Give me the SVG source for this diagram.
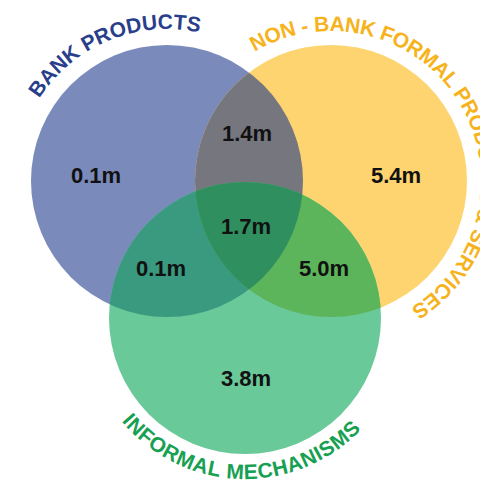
<svg xmlns="http://www.w3.org/2000/svg" xmlns:xlink="http://www.w3.org/1999/xlink" width="480" height="483" viewBox="0 0 480 483">
<style>
.num{font-family:"Liberation Sans",Arial,sans-serif;font-weight:bold;font-size:22px;fill:#111;text-anchor:middle}
.arc{font-family:"Liberation Sans",Arial,sans-serif;font-weight:bold;font-size:21px}
</style>
<defs>
<clipPath id="cBlue"><circle cx="167" cy="181" r="136"/></clipPath>
<clipPath id="cYellow"><circle cx="331" cy="181" r="136"/></clipPath>
<clipPath id="cGreen"><circle cx="245" cy="318" r="136"/></clipPath>
<path id="pBank" d="M15,181 A152,152 0 0,1 319,181" fill="none"/>
<path id="pNonBank" d="M190.05,129.7 A150,150 0 1,1 357.05,328.7" fill="none"/>
<path id="pInformal" d="M84,318 A161,161 0 0,0 406,318" fill="none"/>
</defs>
<rect width="480" height="483" fill="#fff"/>
<g id="bank">
<circle cx="167" cy="181" r="136" fill="#7a8bbb"/>
</g>
<g id="nonbank">
<circle cx="331" cy="181" r="136" fill="#fdd470"/>
</g>
<g id="informal">
<circle cx="245" cy="318" r="136" fill="#69c998"/>
</g>
<g id="bank-nonbank">
<circle cx="331" cy="181" r="136" fill="#76767f" clip-path="url(#cBlue)"/>
</g>
<g id="bank-informal">
<circle cx="245" cy="318" r="136" fill="#3a9a80" clip-path="url(#cBlue)"/>
</g>
<g id="nonbank-informal">
<circle cx="245" cy="318" r="136" fill="#5db55b" clip-path="url(#cYellow)"/>
</g>
<g id="all-three">
<g clip-path="url(#cYellow)">
<circle cx="245" cy="318" r="136" fill="#2f8f5f" clip-path="url(#cBlue)"/>
</g>
</g>
<g id="values">
<text class="num" x="96" y="183">0.1m</text>
<text class="num" x="247" y="141">1.4m</text>
<text class="num" x="396" y="183">5.4m</text>
<text class="num" x="246" y="234">1.7m</text>
<text class="num" x="161" y="276">0.1m</text>
<text class="num" x="324" y="276">5.0m</text>
<text class="num" x="246" y="386">3.8m</text>
</g>
<g id="labels">
<text class="arc" fill="#2a3f8c"><textPath xlink:href="#pBank" href="#pBank" startOffset="87">BANK PRODUCTS</textPath></text>
<text class="arc" fill="#f6b31c" font-size="19" letter-spacing="-0.3"><textPath xlink:href="#pNonBank" href="#pNonBank" startOffset="103">NON - BANK FORMAL PRODUCTS &amp; SERVICES</textPath></text>
<text class="arc" fill="#17a052" font-size="22" letter-spacing="0.6"><textPath xlink:href="#pInformal" href="#pInformal" startOffset="112">INFORMAL MECHANISMS</textPath></text>
</g>
</svg>
